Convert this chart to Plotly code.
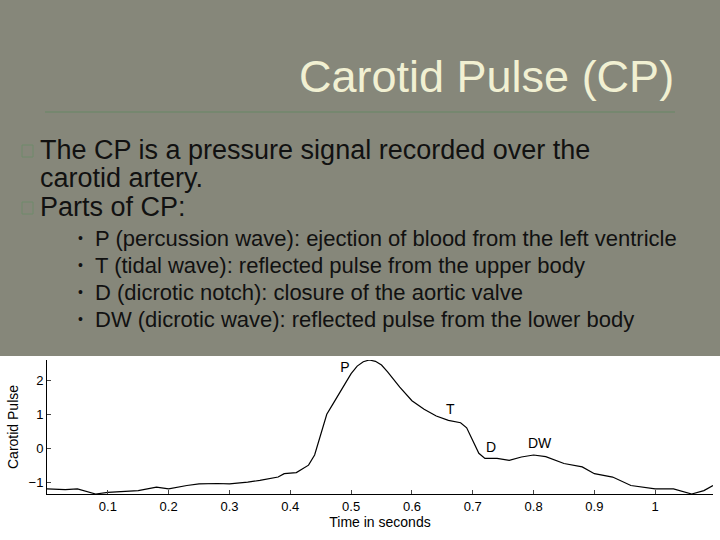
import plotly.graph_objects as go

# carotid pulse trace
t = [0, 0.03, 0.05, 0.08, 0.1, 0.13, 0.15, 0.18, 0.2, 0.23, 0.25, 0.28, 0.3, 0.33, 0.35, 0.38, 0.39,
     0.41, 0.42, 0.43, 0.44, 0.45, 0.46, 0.47, 0.48, 0.5, 0.51, 0.52, 0.53, 0.54, 0.55, 0.56, 0.58,
     0.6, 0.62, 0.64, 0.66, 0.68, 0.69, 0.7, 0.71, 0.72, 0.74, 0.76, 0.78, 0.8, 0.82, 0.85, 0.88,
     0.9, 0.93, 0.96, 1.0, 1.03, 1.06, 1.08, 1.095]
cp = [-1.2, -1.22, -1.2, -1.35, -1.3, -1.27, -1.25, -1.15, -1.2, -1.1, -1.05, -1.04, -1.05, -1.0, -0.95, -0.85, -0.75,
      -0.72, -0.62, -0.5, -0.2, 0.4, 1.0, 1.3, 1.6, 2.2, 2.42, 2.55, 2.6, 2.56, 2.45, 2.25, 1.8,
      1.4, 1.15, 0.95, 0.82, 0.75, 0.6, 0.2, -0.15, -0.3, -0.3, -0.36, -0.26, -0.2, -0.25, -0.45, -0.55,
      -0.75, -0.85, -1.1, -1.2, -1.2, -1.35, -1.25, -1.1]
labels = ["P", "T", "D", "DW"]
label_t = [0.49, 0.663, 0.73, 0.81]
label_v = [2.35, 1.12, 0.0, 0.1]
xticks = [0.1, 0.2, 0.3, 0.4, 0.5, 0.6, 0.7, 0.8, 0.9, 1]

W, H = 720, 540
ML, MR, MT, MB = 47, 7, 360, 46
PW, PH = W - ML - MR, H - MT - MB

def px(x):
    return (x - ML) / PW

def py(y):
    return (H - MB - y) / PH

fig = go.Figure()
fig.add_trace(go.Scatter(x=t, y=cp, mode="lines", line=dict(color="black", width=1.2),
                         hoverinfo="skip"))
fig.add_trace(go.Scatter(x=label_t, y=label_v, mode="text", text=labels,
                         textfont=dict(family="Liberation Sans", size=14, color="black"),
                         textposition="middle center"))

shapes = [
    dict(type="rect", xref="paper", yref="paper", x0=px(0), x1=px(W), y0=py(H), y1=py(356),
         fillcolor="white", line_width=0, layer="below"),
    dict(type="line", xref="paper", yref="paper", x0=px(45), x1=px(675), y0=py(112), y1=py(112),
         line=dict(color="#76876f", width=2)),
]
for yb in [151, 208]:
    shapes.append(dict(type="rect", xref="paper", yref="paper", x0=px(22), x1=px(33),
                       y0=py(yb + 6), y1=py(yb - 6), line=dict(color="#6f8a6a", width=1)))

ann = []
def txt(s, x, y, size, color="#111111", anchor="left", family="Liberation Sans"):
    ann.append(dict(text=s, x=px(x), y=py(y), xref="paper", yref="paper", showarrow=False,
                    xanchor=anchor, yanchor="middle", font=dict(family=family, size=size, color=color)))

txt("Carotid Pulse (CP)", 676, 76, 45, color="#f1f0d2", anchor="right")
txt("The CP is a pressure signal recorded over the", 38, 150, 27)
txt("carotid artery.", 38, 178, 27)
txt("Parts of CP:", 38, 207, 27)
subs = ["P (percussion wave): ejection of blood from the left ventricle",
        "T (tidal wave): reflected pulse from the upper body",
        "D (dicrotic notch): closure of the aortic valve",
        "DW (dicrotic wave): reflected pulse from the lower body"]
for i, s in enumerate(subs):
    y = 238 + i * 27
    txt("\u2022", 76, y, 14)
    txt(s, 93, y, 22)

fig.update_layout(
    width=W, height=H, margin=dict(l=ML, r=MR, t=MT, b=MB),
    paper_bgcolor="#86877a", plot_bgcolor="white", showlegend=False,
    shapes=shapes, annotations=ann,
    xaxis=dict(range=[0, 1.095], tickvals=xticks, ticktext=[str(v) for v in xticks],
               ticks="inside", ticklen=4, showline=True, linecolor="black", showgrid=False,
               zeroline=False, tickfont=dict(family="Liberation Sans", size=13, color="black"),
               title=dict(text="Time in seconds", standoff=4,
                          font=dict(family="Liberation Sans", size=14, color="black"))),
    yaxis=dict(range=[-1.35, 2.6], tickvals=[-1, 0, 1, 2], ticks="inside", ticklen=4,
               showline=True, linecolor="black", showgrid=False, zeroline=False,
               tickfont=dict(family="Liberation Sans", size=13, color="black"),
               title=dict(text="Carotid Pulse", standoff=6,
                          font=dict(family="Liberation Sans", size=14, color="black"))),
)
fig.write_html("out.html", config={"displayModeBar": False},
               post_script="document.body.style.margin='0';")
